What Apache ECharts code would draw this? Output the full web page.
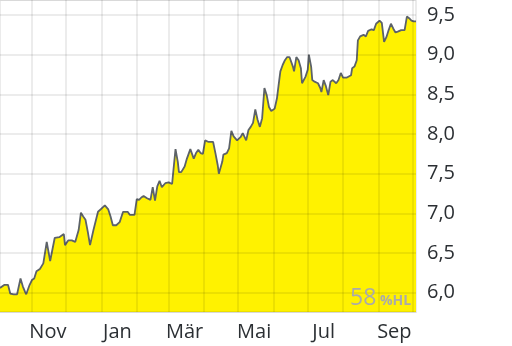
<!DOCTYPE html>
<html>
<head>
<meta charset="utf-8">
<script src="https://cdn.jsdelivr.net/npm/echarts@6/dist/echarts.min.js"></script>
<style>
html,body{margin:0;padding:0;background:#fff;}
#chart{width:512px;height:346px;}
</style>
</head>
<body>
<div id="chart"></div>
<script>
// Axis range (calendar days) and labels
const startDate = '2024-10-04';
const endDate = '2025-10-04';
const monthNames = ['Jan','Feb','Mär','Apr','Mai','Jun','Jul','Aug','Sep','Okt','Nov','Dez'];
const labeledMonths = [10, 0, 2, 4, 6, 8];

const dates = [
'2024-10-04','2024-10-08','2024-10-11','2024-10-13','2024-10-16','2024-10-19','2024-10-22','2024-10-24','2024-10-26','2024-10-27',
'2024-10-30','2024-11-01','2024-11-03','2024-11-05','2024-11-08','2024-11-11','2024-11-14','2024-11-17','2024-11-21','2024-11-25',
'2024-11-29','2024-11-30','2024-12-03','2024-12-06','2024-12-09','2024-12-12','2024-12-14','2024-12-16','2024-12-18','2024-12-20',
'2024-12-22','2024-12-25','2024-12-29','2025-01-01','2025-01-04','2025-01-07','2025-01-09','2025-01-11','2025-01-14','2025-01-17',
'2025-01-20','2025-01-24','2025-01-26','2025-01-30','2025-02-01','2025-02-03','2025-02-05','2025-02-07','2025-02-10','2025-02-13',
'2025-02-15','2025-02-17','2025-02-19','2025-02-21','2025-02-23','2025-02-26','2025-03-01','2025-03-04','2025-03-05','2025-03-07',
'2025-03-09','2025-03-10','2025-03-12','2025-03-15','2025-03-17','2025-03-20','2025-03-23','2025-03-25','2025-03-27','2025-03-29',
'2025-03-31','2025-04-02','2025-04-05','2025-04-09','2025-04-11','2025-04-13','2025-04-14','2025-04-17','2025-04-18','2025-04-21',
'2025-04-23','2025-04-25','2025-04-27','2025-04-30','2025-05-03','2025-05-05','2025-05-08','2025-05-10','2025-05-12','2025-05-14',
'2025-05-16','2025-05-18','2025-05-20','2025-05-22','2025-05-24','2025-05-26','2025-05-28','2025-05-30','2025-06-02','2025-06-04',
'2025-06-06','2025-06-07','2025-06-09','2025-06-11','2025-06-13','2025-06-15','2025-06-18','2025-06-19','2025-06-21','2025-06-23',
'2025-06-25','2025-06-26','2025-06-29','2025-07-01','2025-07-02','2025-07-04','2025-07-05','2025-07-07','2025-07-10','2025-07-12',
'2025-07-13','2025-07-15','2025-07-17','2025-07-19','2025-07-21','2025-07-23','2025-07-26','2025-07-28','2025-07-30','2025-08-01',
'2025-08-04','2025-08-05','2025-08-08','2025-08-09','2025-08-11','2025-08-13','2025-08-14','2025-08-16','2025-08-19','2025-08-21',
'2025-08-23','2025-08-26','2025-08-28','2025-08-30','2025-09-02','2025-09-04','2025-09-06','2025-09-08','2025-09-10','2025-09-12',
'2025-09-14','2025-09-16','2025-09-18','2025-09-21','2025-09-24','2025-09-26','2025-09-28','2025-09-30','2025-10-02','2025-10-04'
];
const prices = [
6.06,6.10,6.10,5.99,5.98,5.98,6.18,6.08,6.01,5.98,
6.10,6.16,6.18,6.27,6.30,6.37,6.64,6.40,6.69,6.70,
6.74,6.60,6.66,6.66,6.64,6.79,7.01,6.96,6.92,6.77,
6.60,6.79,7.02,7.06,7.10,7.05,6.96,6.85,6.85,6.89,
7.02,7.02,6.98,6.98,7.18,7.17,7.20,7.22,7.19,7.17,
7.33,7.16,7.34,7.41,7.33,7.38,7.39,7.37,7.52,7.81,
7.65,7.52,7.52,7.59,7.69,7.81,7.69,7.76,7.80,7.76,
7.75,7.92,7.90,7.90,7.76,7.61,7.50,7.65,7.74,7.76,
7.82,8.04,7.97,7.92,7.96,8.01,7.92,8.05,8.09,8.14,
8.31,8.18,8.09,8.20,8.58,8.49,8.34,8.29,8.32,8.45,
8.68,8.79,8.87,8.93,8.97,8.97,8.85,8.79,8.97,8.93,
8.83,8.64,8.72,8.81,9.00,8.85,8.68,8.66,8.64,8.58,
8.53,8.68,8.60,8.49,8.66,8.68,8.64,8.68,8.77,8.71,
8.71,8.70,8.74,8.83,8.85,8.93,9.18,9.23,9.25,9.23,
9.30,9.32,9.31,9.39,9.43,9.40,9.16,9.22,9.31,9.39,
9.33,9.28,9.29,9.31,9.31,9.48,9.46,9.43,9.42,9.42
];
const yMin = 5.757;
const yMax = 9.689;
const watermarkValue = '58';
const watermarkUnit = '%HL';

// Build calendar categories
function fmt(d){
  const m = d.getUTCMonth()+1, day = d.getUTCDate();
  return d.getUTCFullYear()+'-'+(m<10?'0':'')+m+'-'+(day<10?'0':'')+day;
}
const categories = [];
for (let d = new Date(startDate+'T00:00:00Z'); d <= new Date(endDate+'T00:00:00Z'); d.setUTCDate(d.getUTCDate()+1)) {
  categories.push(fmt(d));
}
const priceMap = {};
dates.forEach((d,i)=>{ priceMap[d] = prices[i]; });
const seriesData = categories.map(c => (c in priceMap) ? priceMap[c] : null);

const font = "'Open Sans', 'Noto Sans', sans-serif";
const chart = echarts.init(document.getElementById('chart'), null, {renderer:'canvas'});
chart.setOption({
  animation: false,
  backgroundColor: '#ffffff',
  grid: {left: 0, top: 0, right: 96, bottom: 34, show: true, borderColor: 'rgba(0,0,0,0.08)', borderWidth: 2, backgroundColor: 'transparent'},
  xAxis: {
    type: 'category',
    data: categories,
    boundaryGap: false,
    z: 5,
    axisLine: {show: false},
    axisTick: {show: false},
    axisLabel: {
      interval: function(i, v){ const p = v.split('-'); return +p[2] === 15 && labeledMonths.indexOf(+p[1]-1) >= 0; },
      formatter: function(v){ return monthNames[+v.split('-')[1]-1]; },
      color: '#2b2f33', fontSize: 20, fontFamily: font, margin: 10
    },
    splitLine: {
      show: true,
      interval: function(i, v){ return +v.split('-')[2] === 1; },
      lineStyle: {color: 'rgba(0,0,0,0.075)', width: 2}
    }
  },
  yAxis: {
    type: 'value',
    position: 'right',
    min: yMin, max: yMax,
    splitNumber: 8,
    z: 5,
    axisLine: {show: false},
    axisTick: {show: false},
    axisLabel: {
      showMinLabel: false, showMaxLabel: false,
      formatter: function(v){ return v.toFixed(1).replace('.', ','); },
      color: '#2b2f33', fontSize: 20, fontFamily: font, margin: 11
    },
    splitLine: {show: true, lineStyle: {color: 'rgba(0,0,0,0.075)', width: 2}}
  },
  series: [{
    type: 'line',
    data: seriesData,
    connectNulls: true,
    symbol: 'none',
    z: 2,
    lineStyle: {color: '#5c6268', width: 1.8},
    areaStyle: {color: '#fff200', opacity: 1}
  }],
  graphic: [
    {type: 'text', x: 350, y: 287, z: 10, style: {text: watermarkValue, fill: '#aaaaaa', font: "23px 'Open Sans', sans-serif"}},
    {type: 'text', x: 380, y: 294, z: 10, style: {text: watermarkUnit, fill: '#aaaaaa', font: "bold 14px 'Open Sans', sans-serif"}}
  ]
});
</script>
</body>
</html>
